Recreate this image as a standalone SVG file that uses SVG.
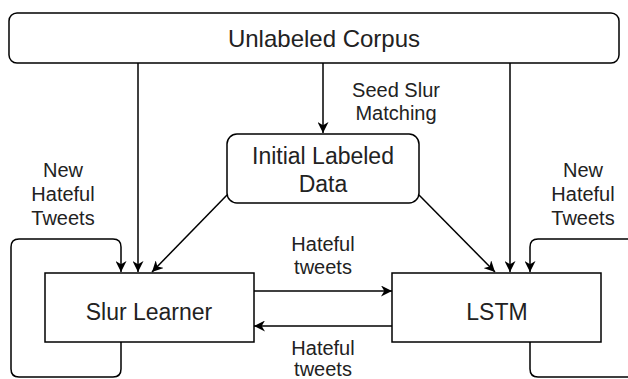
<svg xmlns="http://www.w3.org/2000/svg" width="628" height="379" viewBox="0 0 628 379">
<style>
.box{fill:#fff;stroke:#000;stroke-width:1.5}
.lbl{font-family:"Liberation Sans",Arial,sans-serif;font-size:23px;fill:#222;text-anchor:middle}
.elbl{font-family:"Liberation Sans",Arial,sans-serif;font-size:20px;fill:#222;text-anchor:middle}
.edge{fill:none;stroke:#000;stroke-width:1.5;marker-end:url(#arr)}
</style>
<defs>
<marker id="arr" viewBox="0 0 10 10" markerWidth="11" markerHeight="11" refX="10" refY="5" orient="auto" markerUnits="userSpaceOnUse">
<path d="M0,0 L10,5 L0,10 L3,5 z" fill="#000"/>
</marker>
</defs>
<rect width="628" height="379" fill="#fff"/>
<g id="connectors">
<path class="edge" d="M138,63 V272"/>
<path class="edge" d="M323,63 V133"/>
<path class="edge" d="M510,63 V272"/>
<path class="edge" d="M227,195 L152,272"/>
<path class="edge" d="M419,195 L495,272"/>
<path class="edge" d="M254,291 H392"/>
<path class="edge" d="M392,326 H254"/>
<path class="edge" d="M121,342 V369 Q121,377 113,377 H19 Q11,377 11,369 V247 Q11,239 19,239 H113 Q121,239 121,247 V272"/>
<path class="edge" d="M530,342 V369 Q530,377 538,377 H632 Q640,377 640,369 V247 Q640,239 632,239 H538 Q530,239 530,247 V272"/>
<text class="elbl" x="396" y="97">Seed Slur</text>
<text class="elbl" x="396" y="120">Matching</text>
<text class="elbl" x="63" y="177">New</text>
<text class="elbl" x="63" y="201">Hateful</text>
<text class="elbl" x="63" y="225">Tweets</text>
<text class="elbl" x="583" y="177">New</text>
<text class="elbl" x="583" y="201">Hateful</text>
<text class="elbl" x="583" y="225">Tweets</text>
<text class="elbl" x="323" y="251">Hateful</text>
<text class="elbl" x="323" y="274">tweets</text>
<text class="elbl" x="323" y="355">Hateful</text>
<text class="elbl" x="323" y="376">tweets</text>
</g>
<g id="corpus">
<rect class="box" x="9" y="13" width="610" height="50" rx="8"/>
<text class="lbl" x="324" y="47" style="font-size:24px">Unlabeled Corpus</text>
</g>
<g id="initial">
<rect class="box" x="227" y="134" width="192" height="69" rx="10"/>
<text class="lbl" x="323" y="164">Initial Labeled</text>
<text class="lbl" x="323" y="192">Data</text>
</g>
<g id="slur">
<rect class="box" x="45" y="273" width="209" height="69"/>
<text class="lbl" x="149" y="320">Slur Learner</text>
</g>
<g id="lstm">
<rect class="box" x="392" y="273" width="209" height="69"/>
<text class="lbl" x="497" y="320">LSTM</text>
</g>
</svg>
